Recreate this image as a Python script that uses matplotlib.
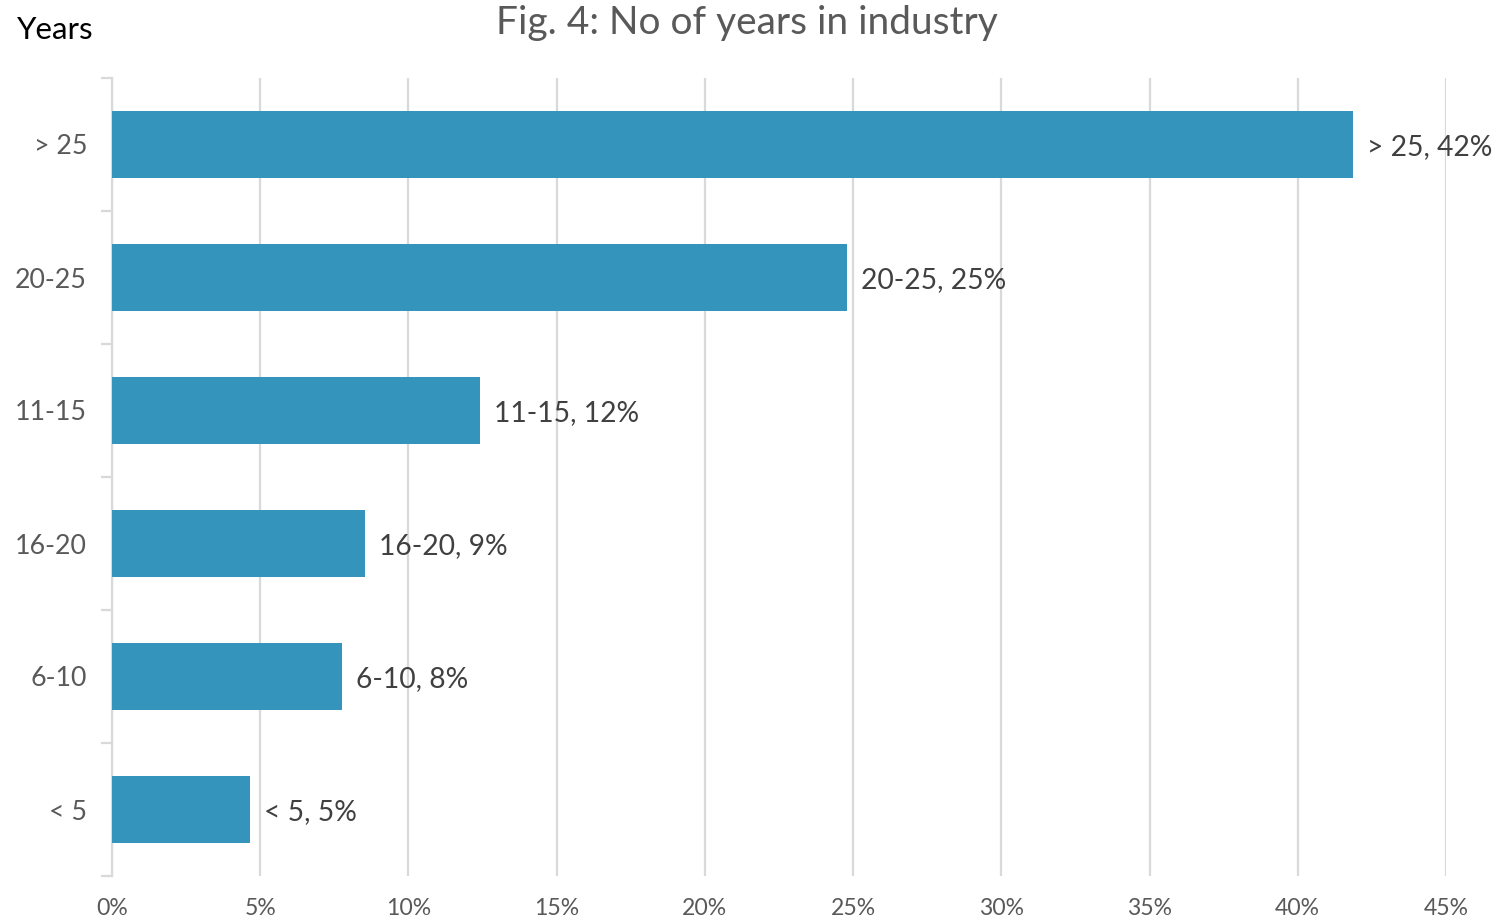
import matplotlib
matplotlib.use("Agg")
import matplotlib.pyplot as plt
from matplotlib.ticker import MultipleLocator, FuncFormatter, FixedLocator

categories = ["< 5", "6-10", "16-20", "11-15", "20-25", "> 25"]
values = [4.66, 7.76, 8.54, 12.42, 24.8, 41.87]
label_pct = ["5%", "8%", "9%", "12%", "25%", "42%"]

plt.rcParams['font.family'] = ['Lato', 'DejaVu Sans']

fig = plt.figure(figsize=(14.94, 9.21), dpi=100)
ax = fig.add_axes([112/1494, 1 - 876/921, (1446 - 112)/1494, (876 - 78)/921])

y = list(range(len(categories)))
bars = ax.barh(y, values, height=0.5, color="#3594BB", zorder=3)

ax.set_xlim(0, 45)
ax.set_ylim(-0.5, len(categories) - 0.5)
ax.xaxis.set_major_locator(MultipleLocator(5))
ax.xaxis.set_major_formatter(FuncFormatter(lambda v, p: f"{int(round(v))}%"))
ax.grid(axis="x", color="#D9D9D9", linewidth=1.6, zorder=0)
ax.set_axisbelow(True)

for s in ["top", "right", "bottom"]:
    ax.spines[s].set_visible(False)
ax.spines["left"].set_color("#D9D9D9")
ax.spines["left"].set_linewidth(1.6)

ax.set_yticks(y)
ax.set_yticklabels(categories)
ax.yaxis.set_minor_locator(FixedLocator([i - 0.5 for i in range(len(categories) + 1)]))
ax.tick_params(axis="y", which="major", length=0, pad=18, labelsize=19.3, labelcolor="#595959")
ax.tick_params(axis="y", which="minor", length=8, width=1.6, color="#D9D9D9")
ax.tick_params(axis="x", which="major", length=0, pad=16, labelsize=16.6, labelcolor="#595959")

for yi, v, cat, lp in zip(y, values, categories, label_pct):
    ax.annotate(f"{cat}, {lp}", xy=(v, yi), xytext=(10, -1.5), textcoords="offset points",
                ha="left", va="center", fontsize=20.3, color="#404040")

fig.text(0.5, 1 - 23/921, "Fig. 4: No of years in industry", ha="center", va="center",
         fontsize=28, color="#595959")
fig.text(17/1494, 1 - 30/921, "Years", ha="left", va="center", fontsize=22.5, color="#000000")

fig.savefig("out.png", dpi=100)
